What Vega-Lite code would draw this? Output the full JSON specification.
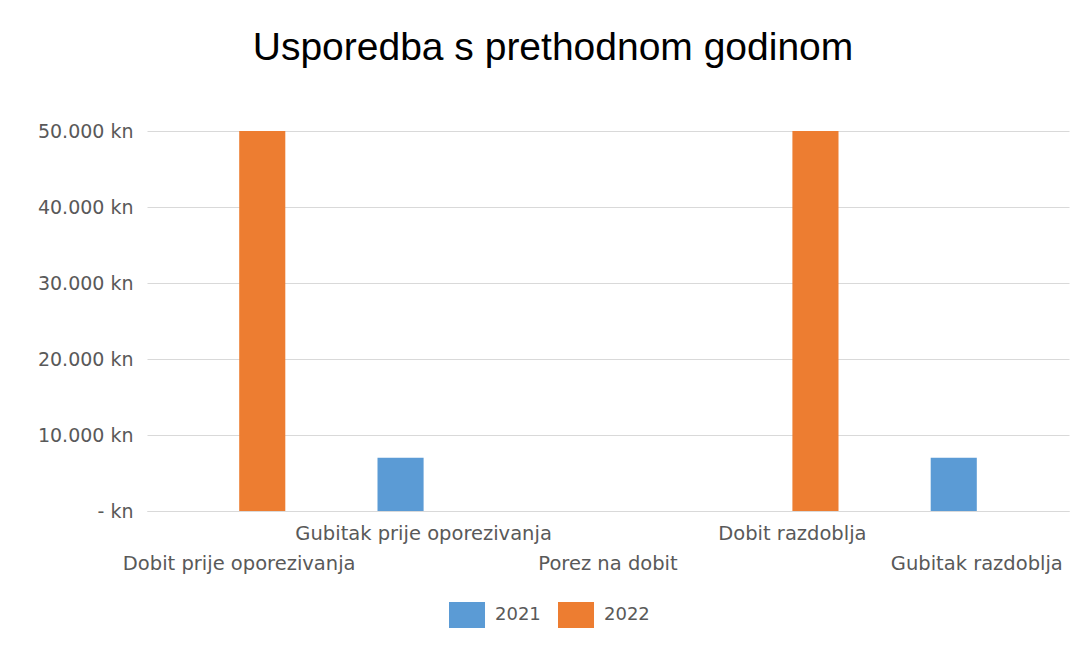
{
  "$schema": "https://vega.github.io/schema/vega-lite/v6.json",
  "width": 922,
  "height": 380,
  "autosize": "none",
  "padding": {"left": 147, "top": 131, "right": 12, "bottom": 143},
  "background": "white",
  "title": {
    "text": "Usporedba s prethodnom godinom",
    "font": "Liberation Sans",
    "fontSize": 39,
    "fontWeight": "normal",
    "color": "#000000",
    "anchor": "middle",
    "baseline": "alphabetic",
    "offset": 23,
    "dx": -55
  },
  "config": {
    "view": {"stroke": null},
    "font": "DejaVu Sans"
  },
  "data": {
    "values": [
      {"kategorija": "Dobit prije oporezivanja", "godina": "2021", "iznos": 0},
      {"kategorija": "Dobit prije oporezivanja", "godina": "2022", "iznos": 50000},
      {"kategorija": "Gubitak prije oporezivanja", "godina": "2021", "iznos": 7000},
      {"kategorija": "Gubitak prije oporezivanja", "godina": "2022", "iznos": 0},
      {"kategorija": "Porez na dobit", "godina": "2021", "iznos": 0},
      {"kategorija": "Porez na dobit", "godina": "2022", "iznos": 0},
      {"kategorija": "Dobit razdoblja", "godina": "2021", "iznos": 0},
      {"kategorija": "Dobit razdoblja", "godina": "2022", "iznos": 50000},
      {"kategorija": "Gubitak razdoblja", "godina": "2021", "iznos": 7000},
      {"kategorija": "Gubitak razdoblja", "godina": "2022", "iznos": 0}
    ]
  },
  "mark": {"type": "bar"},
  "encoding": {
    "x": {
      "field": "kategorija",
      "type": "nominal",
      "scale": {
        "domain": ["Dobit prije oporezivanja", "Gubitak prije oporezivanja", "Porez na dobit", "Dobit razdoblja", "Gubitak razdoblja"],
        "paddingInner": 0,
        "paddingOuter": 0
      },
      "axis": {
        "title": null,
        "labelAngle": 0,
        "ticks": false,
        "domain": true,
        "domainColor": "#d9d9d9",
        "domainWidth": 1,
        "labelFont": "DejaVu Sans",
        "labelFontSize": 19.5,
        "labelColor": "#595959",
        "labelPadding": 13,
        "labelLimit": 0,
        "labelOverlap": false,
        "labelBound": false,
        "labelLineHeight": 30,
        "labelExpr": "indexof(['Gubitak prije oporezivanja','Dobit razdoblja'], datum.value) >= 0 ? datum.label : ['', datum.label]"
      }
    },
    "xOffset": {
      "field": "godina",
      "type": "nominal",
      "scale": {"domain": ["2021", "2022"], "paddingInner": 0, "paddingOuter": 1.03}
    },
    "y": {
      "field": "iznos",
      "type": "quantitative",
      "scale": {"domain": [0, 50000], "nice": false},
      "axis": {
        "title": null,
        "values": [0, 10000, 20000, 30000, 40000, 50000],
        "labelExpr": "datum.value == 0 ? '- kn' : replace(format(datum.value, ',d'), ',', '.') + ' kn'",
        "ticks": false,
        "domain": false,
        "grid": true,
        "gridColor": "#d9d9d9",
        "gridWidth": 1,
        "labelFont": "DejaVu Sans",
        "labelFontSize": 19,
        "labelColor": "#595959",
        "labelPadding": 14
      }
    },
    "color": {
      "field": "godina",
      "type": "nominal",
      "scale": {"domain": ["2021", "2022"], "range": ["#5b9bd5", "#ed7d31"]},
      "legend": {
        "title": null,
        "orient": "none",
        "direction": "horizontal",
        "legendX": 302,
        "legendY": 471,
        "padding": 0,
        "symbolType": "M-1,-1L1.77,-1L1.77,1L-1,1Z",
        "symbolSize": 676,
        "symbolStrokeWidth": 0,
        "symbolOpacity": 1,
        "labelFont": "DejaVu Sans",
        "labelFontSize": 18,
        "labelColor": "#595959",
        "labelOffset": 20,
        "columnPadding": 17
      }
    }
  }
}
